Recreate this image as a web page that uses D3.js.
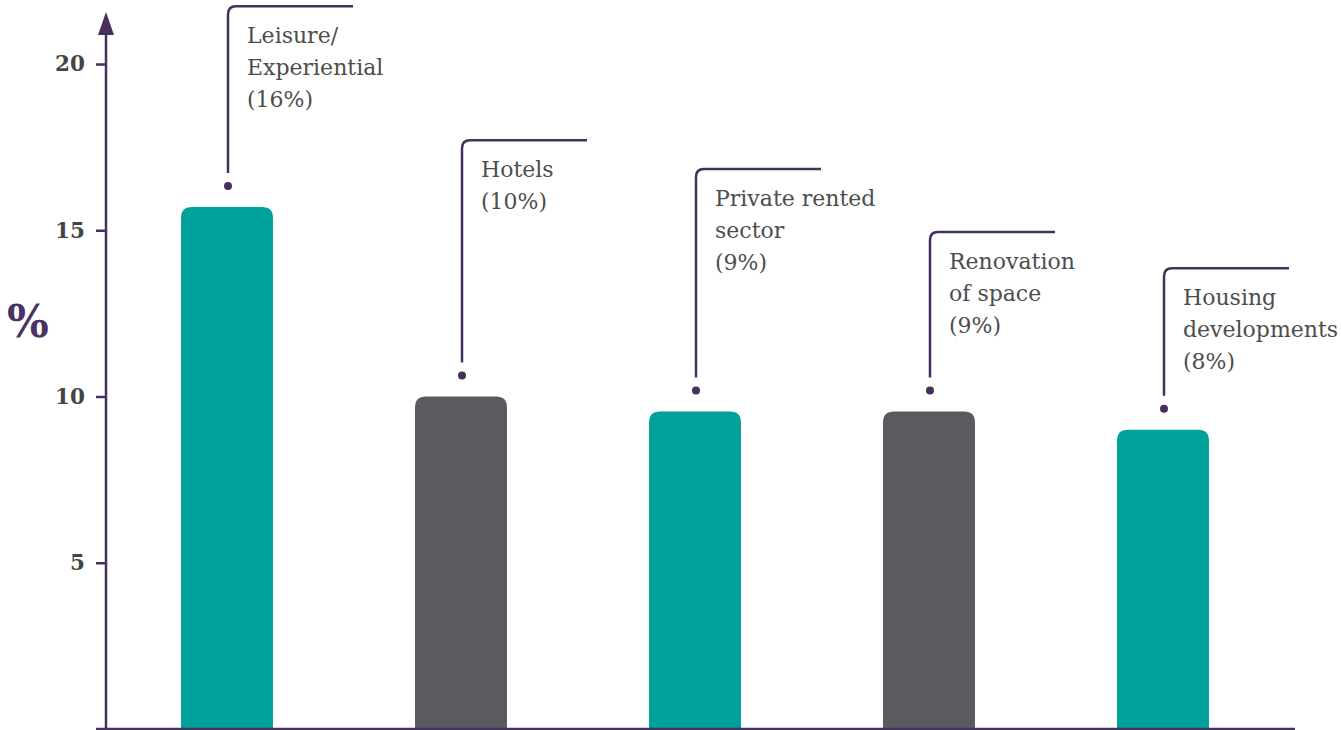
<!DOCTYPE html>
<html>
<head>
<meta charset="utf-8">
<script src="https://cdn.jsdelivr.net/npm/d3@7"></script>
<style>
  html, body { margin: 0; padding: 0; background: #fff; }
  svg { display: block; }
</style>
</head>
<body>
<svg id="chart" width="1341" height="730"></svg>
<script>
// ---- data ----
const categories = ["Leisure/Experiential", "Hotels", "Private rented sector", "Renovation of space", "Housing developments"];
const values = [15.7, 10.0, 9.55, 9.55, 9.0];
const labelLines = [
  ["Leisure/", "Experiential", "(16%)"],
  ["Hotels", "(10%)"],
  ["Private rented", "sector", "(9%)"],
  ["Renovation", "of space", "(9%)"],
  ["Housing", "developments", "(8%)"]
];
const labelTops = [21.74, 17.71, 16.84, 14.95, 13.86]; // value level of annotation bracket
const barColors = ["#00A19A", "#5A5B5F", "#00A19A", "#5A5B5F", "#00A19A"];
const yTicks = [5, 10, 15, 20];

// ---- layout ----
const svg = d3.select("#chart");
const axisColor = "#45305E";
const x = d3.scaleBand().domain(categories).range([110, 1280]).paddingInner(0.607).paddingOuter(0.3035);
const y = d3.scaleLinear().domain([0, 20]).range([729, 64]);

// bars with rounded top corners
function roundedTop(x0, y0, w, h, r) {
  r = Math.min(r, h, w / 2);
  return `M${x0},${y0 + h} V${y0 + r} Q${x0},${y0} ${x0 + r},${y0} H${x0 + w - r} Q${x0 + w},${y0} ${x0 + w},${y0 + r} V${y0 + h} Z`;
}
svg.append("g").selectAll("path").data(categories).join("path")
  .attr("d", (d, i) => roundedTop(x(d), y(values[i]), x.bandwidth(), y(0) - y(values[i]), 11))
  .attr("fill", (d, i) => barColors[i]);

// y axis
const yAxis = d3.axisLeft(y).tickValues(yTicks).tickSize(10).tickPadding(11);
const gy = svg.append("g").attr("transform", "translate(106,0)").call(yAxis);
gy.select(".domain").remove();
gy.selectAll(".tick line").attr("stroke", axisColor).attr("stroke-width", 2.5);
gy.selectAll(".tick text")
  .attr("fill", "#444").attr("font-family", "'DejaVu Serif', serif")
  .attr("font-weight", "bold").attr("font-size", 21.5);

svg.append("line").attr("x1", 106).attr("x2", 106).attr("y1", y(0)).attr("y2", 30)
  .attr("stroke", axisColor).attr("stroke-width", 2.5);
svg.append("path").attr("d", "M106,12 L98,35 L114,35 Z").attr("fill", axisColor);
svg.append("line").attr("x1", 96).attr("x2", 1295).attr("y1", y(0)).attr("y2", y(0))
  .attr("stroke", axisColor).attr("stroke-width", 2.5);

svg.append("text").attr("x", 7).attr("y", 337).text("%")
  .attr("fill", "#4A3362").attr("font-family", "'DejaVu Serif', serif")
  .attr("font-weight", "bold").attr("font-size", 44);

// annotations
const ann = svg.append("g");
categories.forEach((c, i) => {
  const cx = x(c) + x.bandwidth() / 2 + 1;
  const dotY = y(values[i]) - 21;
  const topY = y(labelTops[i]);
  const r = 8;
  ann.append("circle").attr("cx", cx).attr("cy", dotY).attr("r", 4).attr("fill", axisColor);
  ann.append("path")
    .attr("d", `M${cx},${dotY - 13} V${topY + r} Q${cx},${topY} ${cx + r},${topY} H${cx + 125}`)
    .attr("fill", "none").attr("stroke", axisColor).attr("stroke-width", 2.5);
  const t = ann.append("text").attr("font-family", "'DejaVu Serif', serif")
    .attr("font-size", 22).attr("fill", "#4D4D4D");
  labelLines[i].forEach((line, k) => {
    t.append("tspan").attr("x", cx + 19).attr("y", topY + 37 + k * 32).text(line);
  });
});
</script>
</body>
</html>
